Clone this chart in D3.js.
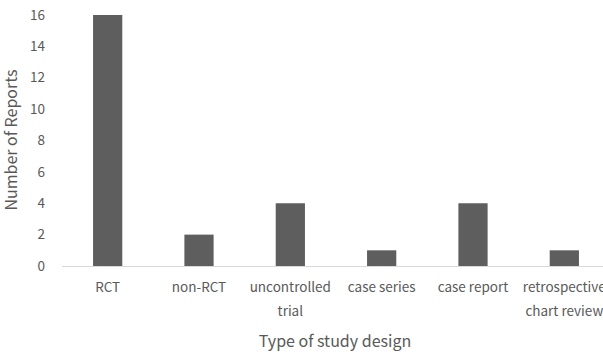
<!DOCTYPE html>
<html><head><meta charset="utf-8">
<script src="https://cdn.jsdelivr.net/npm/d3@7"></script>
<style>body{margin:0;background:#fff;overflow:hidden}</style>
</head><body>
<script>
const categories = [["RCT"],["non-RCT"],["uncontrolled","trial"],["case series"],["case report"],["retrospective","chart review"]];
const values = [16, 2, 4, 1, 4, 1];
const yTicks = [0,2,4,6,8,10,12,14,16];

const W = 603, H = 358;
const svg = d3.select("body").append("svg").attr("width", W).attr("height", H);
const font = "'Noto Sans CJK KR', 'Noto Sans', sans-serif";
const x = d3.scaleBand().domain(d3.range(categories.length)).range([62, 610]).paddingInner(0.68).paddingOuter(0.34);
const y = d3.scaleLinear().domain([0,16]).range([266, 15]);

svg.append("line").attr("x1", 62).attr("x2", 603).attr("y1", y(0)+0.5).attr("y2", y(0)+0.5)
  .attr("stroke", "#d9d9d9").attr("stroke-width", 1);

svg.selectAll("rect.bar").data(values).join("rect").attr("class","bar")
  .attr("x", (d,i)=>x(i)).attr("width", x.bandwidth())
  .attr("y", d=>y(d)).attr("height", d=>y(0)-y(d)).attr("fill", "#5e5e5e");

svg.selectAll("text.yt").data(yTicks).join("text").attr("class","yt")
  .attr("x", 45).attr("y", d=>y(d)).attr("dy","0.35em").attr("text-anchor","end")
  .attr("font-family", font).attr("font-size", 13.5).attr("fill", "#595959").text(d=>d);

const xl = svg.selectAll("text.xl").data(categories).join("text").attr("class","xl")
  .attr("x", (d,i)=>x(i)+x.bandwidth()/2).attr("y", 292).attr("text-anchor","middle")
  .attr("font-family", font).attr("font-size", 13.5).attr("fill", "#595959");
xl.selectAll("tspan").data(d=>d).join("tspan")
  .attr("x", function(){return this.parentNode.getAttribute("x");})
  .attr("dy", (d,i)=> i===0 ? 0 : 24).text(d=>d);

svg.append("text").attr("x", 335).attr("y", 347).attr("text-anchor","middle")
  .attr("font-family", font).attr("font-size", 16).attr("fill", "#595959").text("Type of study design");

svg.append("text").attr("transform", "translate(17,140) rotate(-90)").attr("text-anchor","middle")
  .attr("font-family", font).attr("font-size", 16).attr("fill", "#595959").text("Number of Reports");
</script>
</body></html>
